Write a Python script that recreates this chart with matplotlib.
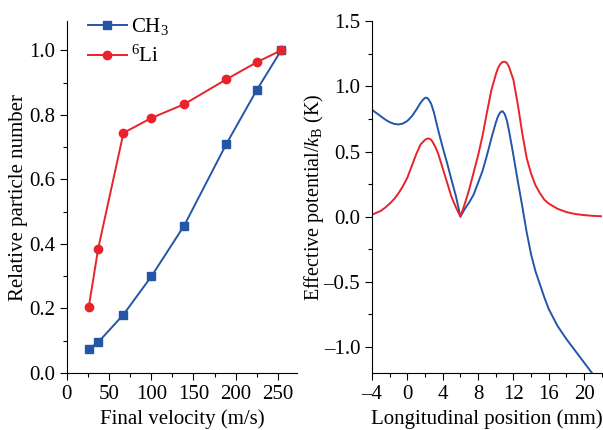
import matplotlib
matplotlib.use("Agg")
import matplotlib.pyplot as plt
from matplotlib.ticker import MultipleLocator, FuncFormatter

plt.rcParams["font.family"] = ["Liberation Serif", "DejaVu Serif"]
plt.rcParams["mathtext.fontset"] = "custom"
plt.rcParams["mathtext.rm"] = "Liberation Serif"
plt.rcParams["mathtext.it"] = "Liberation Serif:italic"
plt.rcParams["font.size"] = 15

BLUE = "#2456a8"
RED = "#e8232b"
TICK_SIZE = 15

# left panel: relative particle number vs final velocity
velocity = [26, 37, 67, 100, 139, 189, 225, 254]
ch3_number = [0.074, 0.095, 0.181, 0.299, 0.457, 0.710, 0.877, 1.0]
li_number = [0.206, 0.385, 0.744, 0.790, 0.833, 0.910, 0.963, 1.0]

# right panel: effective potential along the beam axis
blue_pos = [-4, -3.5, -3, -2.5, -2, -1.5, -1, -0.5, 0, 0.5, 1, 1.5, 1.8, 2,
            2.2, 2.4, 2.7, 3, 3.5, 4, 4.5, 5, 5.5, 6, 6.5, 7, 7.5, 8, 8.5,
            9, 9.5, 10, 10.25, 10.5, 10.75, 11, 11.25, 11.5, 12, 12.5, 13,
            13.5, 14, 14.5, 15, 15.5, 16, 17, 18, 19, 20, 21]
ch3_potential = [0.82, 0.795, 0.77, 0.745, 0.725, 0.712, 0.708, 0.715, 0.735,
                 0.77, 0.82, 0.875, 0.90, 0.912, 0.913, 0.90, 0.865, 0.80,
                 0.66, 0.53, 0.41, 0.28, 0.155, 0.0, 0.06, 0.11, 0.17, 0.26,
                 0.35, 0.47, 0.6, 0.72, 0.77, 0.80, 0.81, 0.79, 0.74, 0.66,
                 0.47, 0.27, 0.08, -0.12, -0.29, -0.42, -0.52, -0.62, -0.71,
                 -0.84, -0.94, -1.03, -1.12, -1.21]

red_pos = [-4, -3.5, -3, -2.5, -2, -1.5, -1, -0.5, 0, 0.5, 1, 1.5, 2, 2.2,
           2.4, 2.6, 2.8, 3.2, 3.5, 4, 4.5, 5, 5.5, 6, 6.5, 7, 7.5, 8, 8.5,
           9, 9.5, 10, 10.25, 10.5, 10.75, 11, 11.25, 11.5, 12, 12.5, 13,
           13.5, 14, 14.5, 15, 15.5, 16, 17, 18, 19, 20, 21, 22]
li_potential = [0.015, 0.03, 0.045, 0.07, 0.1, 0.135, 0.18, 0.235, 0.3, 0.39,
                0.48, 0.555, 0.59, 0.598, 0.60, 0.595, 0.58, 0.53, 0.48,
                0.37, 0.26, 0.15, 0.07, 0.0, 0.1, 0.21, 0.34, 0.47, 0.62,
                0.8, 0.97, 1.09, 1.14, 1.17, 1.187, 1.19, 1.18, 1.15, 1.05,
                0.86, 0.64, 0.45, 0.33, 0.24, 0.18, 0.13, 0.10, 0.06, 0.035,
                0.02, 0.012, 0.006, 0.003]


def dash_minus(value, pos):
    return f"{value:.1f}".replace("-", "\u2013")


def style_axes(ax):
    ax.spines["top"].set_visible(False)
    ax.spines["right"].set_visible(False)
    ax.tick_params(which="major", direction="out", length=5, width=0.8,
                   labelsize=TICK_SIZE)
    ax.tick_params(which="minor", direction="out", length=3, width=0.8)


fig = plt.figure(figsize=(6.03, 4.30), dpi=100)

ax1 = fig.add_axes([0.111, 0.1326, 0.382, 0.818])
ax1.plot(velocity, ch3_number, "-s", color=BLUE, lw=1.4, ms=5.5, label="CH$_3$")
ax1.plot(velocity, li_number, "-o", color=RED, lw=1.4, ms=6, label="$^6$Li")
ax1.set_xlim(0, 273)
ax1.set_ylim(0, 1.09)
ax1.xaxis.set_major_locator(MultipleLocator(50))
ax1.xaxis.set_minor_locator(MultipleLocator(25))
ax1.yaxis.set_major_locator(MultipleLocator(0.2))
ax1.yaxis.set_minor_locator(MultipleLocator(0.1))
ax1.yaxis.set_major_formatter(FuncFormatter(dash_minus))
ax1.set_xlabel("Final velocity (m/s)", labelpad=4)
ax1.set_ylabel("Relative particle number", labelpad=1)
style_axes(ax1)
ax1.legend(loc="upper left", bbox_to_anchor=(0.09, 1.014), frameon=False,
           handlelength=1.9, handletextpad=0.2, labelspacing=0.4,
           borderaxespad=0.0, borderpad=0.0, fontsize=15)

ax2 = fig.add_axes([0.617, 0.1326, 0.381, 0.818])
ax2.plot(blue_pos, ch3_potential, color=BLUE, lw=1.4)
ax2.plot(red_pos, li_potential, color=RED, lw=1.4)
ax2.set_xlim(-4, 22)
ax2.set_ylim(-1.2, 1.5)
ax2.xaxis.set_major_locator(MultipleLocator(4))
ax2.xaxis.set_minor_locator(MultipleLocator(2))
ax2.xaxis.set_major_formatter(FuncFormatter(lambda v, p: f"{v:.0f}".replace("-", "\u2013")))
ax2.yaxis.set_major_locator(MultipleLocator(0.5))
ax2.yaxis.set_minor_locator(MultipleLocator(0.25))
ax2.yaxis.set_major_formatter(FuncFormatter(dash_minus))
ax2.set_xlabel("Longitudinal position (mm)", labelpad=4)
ax2.set_ylabel("Effective potential/$k_\\mathrm{B}$ (K)", labelpad=-1.5,
               fontsize=14.5)
style_axes(ax2)

fig.savefig("out.png", dpi=100)
